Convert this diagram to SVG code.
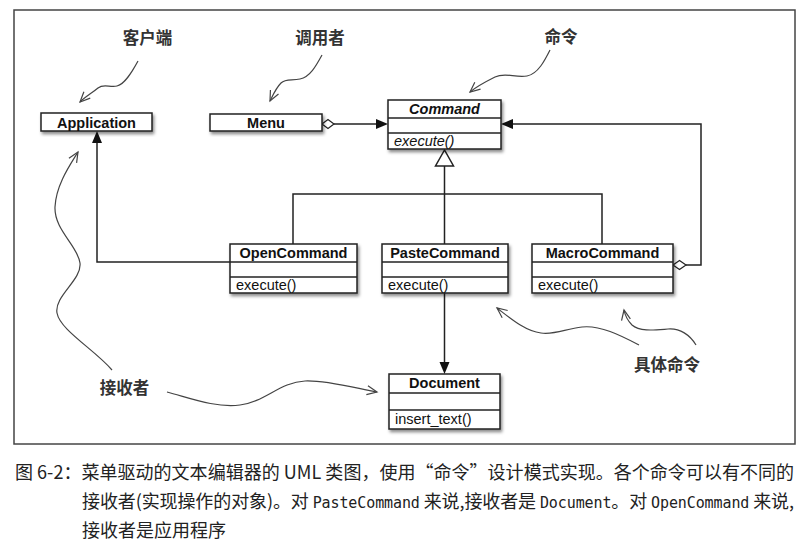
<svg xmlns="http://www.w3.org/2000/svg" width="807" height="557" viewBox="0 0 807 557">
<style>
.box{fill:#fff;stroke:#222;stroke-width:1.5}
.div{stroke:#222;stroke-width:1.5}
.cn{font-family:"Liberation Sans",Arial,sans-serif;font-weight:bold;font-size:14.5px;fill:#111;text-anchor:middle}
.mt{font-family:"Liberation Sans",Arial,sans-serif;font-size:14.5px;fill:#111}
.it{font-style:italic}
.conn{fill:none;stroke:#222;stroke-width:1.5}
.sq{fill:none;stroke:#444;stroke-width:1.2}
.lbl{font-family:"Noto Sans CJK SC","Noto Sans",sans-serif;font-weight:bold;font-size:16.5px;fill:#333;text-anchor:middle}
.cap{font-family:"Noto Sans CJK SC","Noto Sans",sans-serif;font-size:18px;fill:#222}
.mono{font-family:"DejaVu Sans Mono","Liberation Mono",monospace;font-size:15px}
</style>
<defs>
<filter id="sh" x="-10%" y="-10%" width="130%" height="140%">
<feDropShadow dx="1.5" dy="2.5" stdDeviation="1.5" flood-color="#000" flood-opacity="0.45"/>
</filter>
<marker id="openv" markerUnits="userSpaceOnUse" markerWidth="14" markerHeight="14" viewBox="-12 -7 14 14" refX="0" refY="0" orient="auto">
<path d="M-10,-4.5 L0,0 L-10,4.5" fill="none" stroke="#444" stroke-width="1.2"/>
</marker>
</defs>
<rect x="14" y="10" width="781" height="434" fill="#fff" stroke="#444" stroke-width="1.5"/>

<g id="connectors">
<!-- Menu to Command aggregation -->
<path class="conn" d="M334,124 L377,124"/>
<polygon points="322,124 328,119.5 334,124 328,128.5" fill="#fff" stroke="#222" stroke-width="1.2"/>
<polygon points="388,124 376,119 376,129" fill="#111"/>
<!-- MacroCommand to Command -->
<path class="conn" d="M686,265 L701,265 L701,124 L512,124"/>
<polygon points="673,265 679.5,260.5 686,265 679.5,269.5" fill="#fff" stroke="#222" stroke-width="1.2"/>
<polygon points="501,124 513,119 513,129" fill="#111"/>
<!-- generalization -->
<path class="conn" d="M444.5,166 L444.5,244 M293,244 L293,194 L602,194 L602,244"/>
<polygon points="444.5,150 435.5,166 453.5,166" fill="#fff" stroke="#222" stroke-width="1.5"/>
<!-- OpenCommand to Application -->
<path class="conn" d="M230,262 L97,262 L97,142"/>
<polygon points="97,131 92,143 102,143" fill="#111"/>
<!-- PasteCommand to Document -->
<path class="conn" d="M444.5,293 L444.5,363"/>
<polygon points="444.5,374 439.5,362 449.5,362" fill="#111"/>
</g>

<g id="Application">
<rect class="box" x="41" y="113" width="111" height="18" filter="url(#sh)"/>
<text class="cn" x="96.5" y="127.5">Application</text>
</g>
<g id="Menu">
<rect class="box" x="210" y="114" width="112" height="17" filter="url(#sh)"/>
<text class="cn" x="266" y="128">Menu</text>
</g>
<g id="Command">
<rect class="box" x="388" y="100" width="113" height="49" filter="url(#sh)"/>
<line class="div" x1="388" y1="118" x2="501" y2="118"/>
<line class="div" x1="388" y1="133" x2="501" y2="133"/>
<text class="cn it" x="444.5" y="114">Command</text>
<text class="mt it" x="394" y="146">execute()</text>
</g>
<g id="OpenCommand">
<rect class="box" x="230" y="244" width="127" height="49" filter="url(#sh)"/>
<line class="div" x1="230" y1="262" x2="357" y2="262"/>
<line class="div" x1="230" y1="277" x2="357" y2="277"/>
<text class="cn" x="293.5" y="258">OpenCommand</text>
<text class="mt" x="236" y="290">execute()</text>
</g>
<g id="PasteCommand">
<rect class="box" x="382" y="244" width="126" height="49" filter="url(#sh)"/>
<line class="div" x1="382" y1="262" x2="508" y2="262"/>
<line class="div" x1="382" y1="277" x2="508" y2="277"/>
<text class="cn" x="445" y="258">PasteCommand</text>
<text class="mt" x="388" y="290">execute()</text>
</g>
<g id="MacroCommand">
<rect class="box" x="532" y="244" width="141" height="49" filter="url(#sh)"/>
<line class="div" x1="532" y1="262" x2="673" y2="262"/>
<line class="div" x1="532" y1="277" x2="673" y2="277"/>
<text class="cn" x="602.5" y="258">MacroCommand</text>
<text class="mt" x="538" y="290">execute()</text>
</g>
<g id="Document">
<rect class="box" x="389" y="374" width="111" height="55" filter="url(#sh)"/>
<line class="div" x1="389" y1="393" x2="500" y2="393"/>
<line class="div" x1="389" y1="410" x2="500" y2="410"/>
<text class="cn" x="444.5" y="388">Document</text>
<text class="mt" x="395" y="424">insert_text()</text>
</g>

<g id="annotations">
<path class="sq" marker-end="url(#openv)" d="M138,61 C132,72 125,84 117,86 C110,88 104,83 98,88 C92,93 85,97 80,102"/>
<path class="sq" marker-end="url(#openv)" d="M322,55 C316,66 310,77 300,79 C292,81 286,78 281,83 C276,88 273,95 270,101"/>
<path class="sq" marker-end="url(#openv)" d="M550,50 C545,60 538,74 527,76 C515,78 505,72 495,77 C485,82 476,87 470,92"/>
<path class="sq" marker-end="url(#openv)" d="M112,370 C95,350 60,330 57,313 C54,296 82,280 80,263 C78,246 54,230 55,207 C56,185 70,165 78,152"/>
<path class="sq" marker-end="url(#openv)" d="M167,392 C190,398 215,408 240,405 C265,402 280,382 305,381 C325,380 355,388 377,392"/>
<path class="sq" marker-end="url(#openv)" d="M639,345 C620,335 600,325 582,327 C565,329 555,335 541,333 C525,331 510,318 497,308"/>
<path class="sq" marker-end="url(#openv)" d="M696,345 C690,335 680,328 668,329 C655,330 640,332 632,325 C627,320 625,315 624,310"/>
<text class="lbl" x="147.5" y="44">客户端</text>
<text class="lbl" x="320" y="44">调用者</text>
<text class="lbl" x="561" y="43">命令</text>
<text class="lbl" x="124.5" y="394">接收者</text>
<text class="lbl" x="667" y="371">具体命令</text>
</g>

<g id="caption">
<text class="cap" x="15" y="479" textLength="779" lengthAdjust="spacing">图 6-2：菜单驱动的文本编辑器的 UML 类图，使用“命令”设计模式实现。各个命令可以有不同的</text>
<text class="cap" x="82" y="508" textLength="712" lengthAdjust="spacing">接收者(实现操作的对象)。对 <tspan class="mono">PasteCommand</tspan> 来说,接收者是 <tspan class="mono">Document</tspan>。对 <tspan class="mono">OpenCommand</tspan> 来说,</text>
<text class="cap" x="82" y="537">接收者是应用程序</text>
</g>
</svg>
